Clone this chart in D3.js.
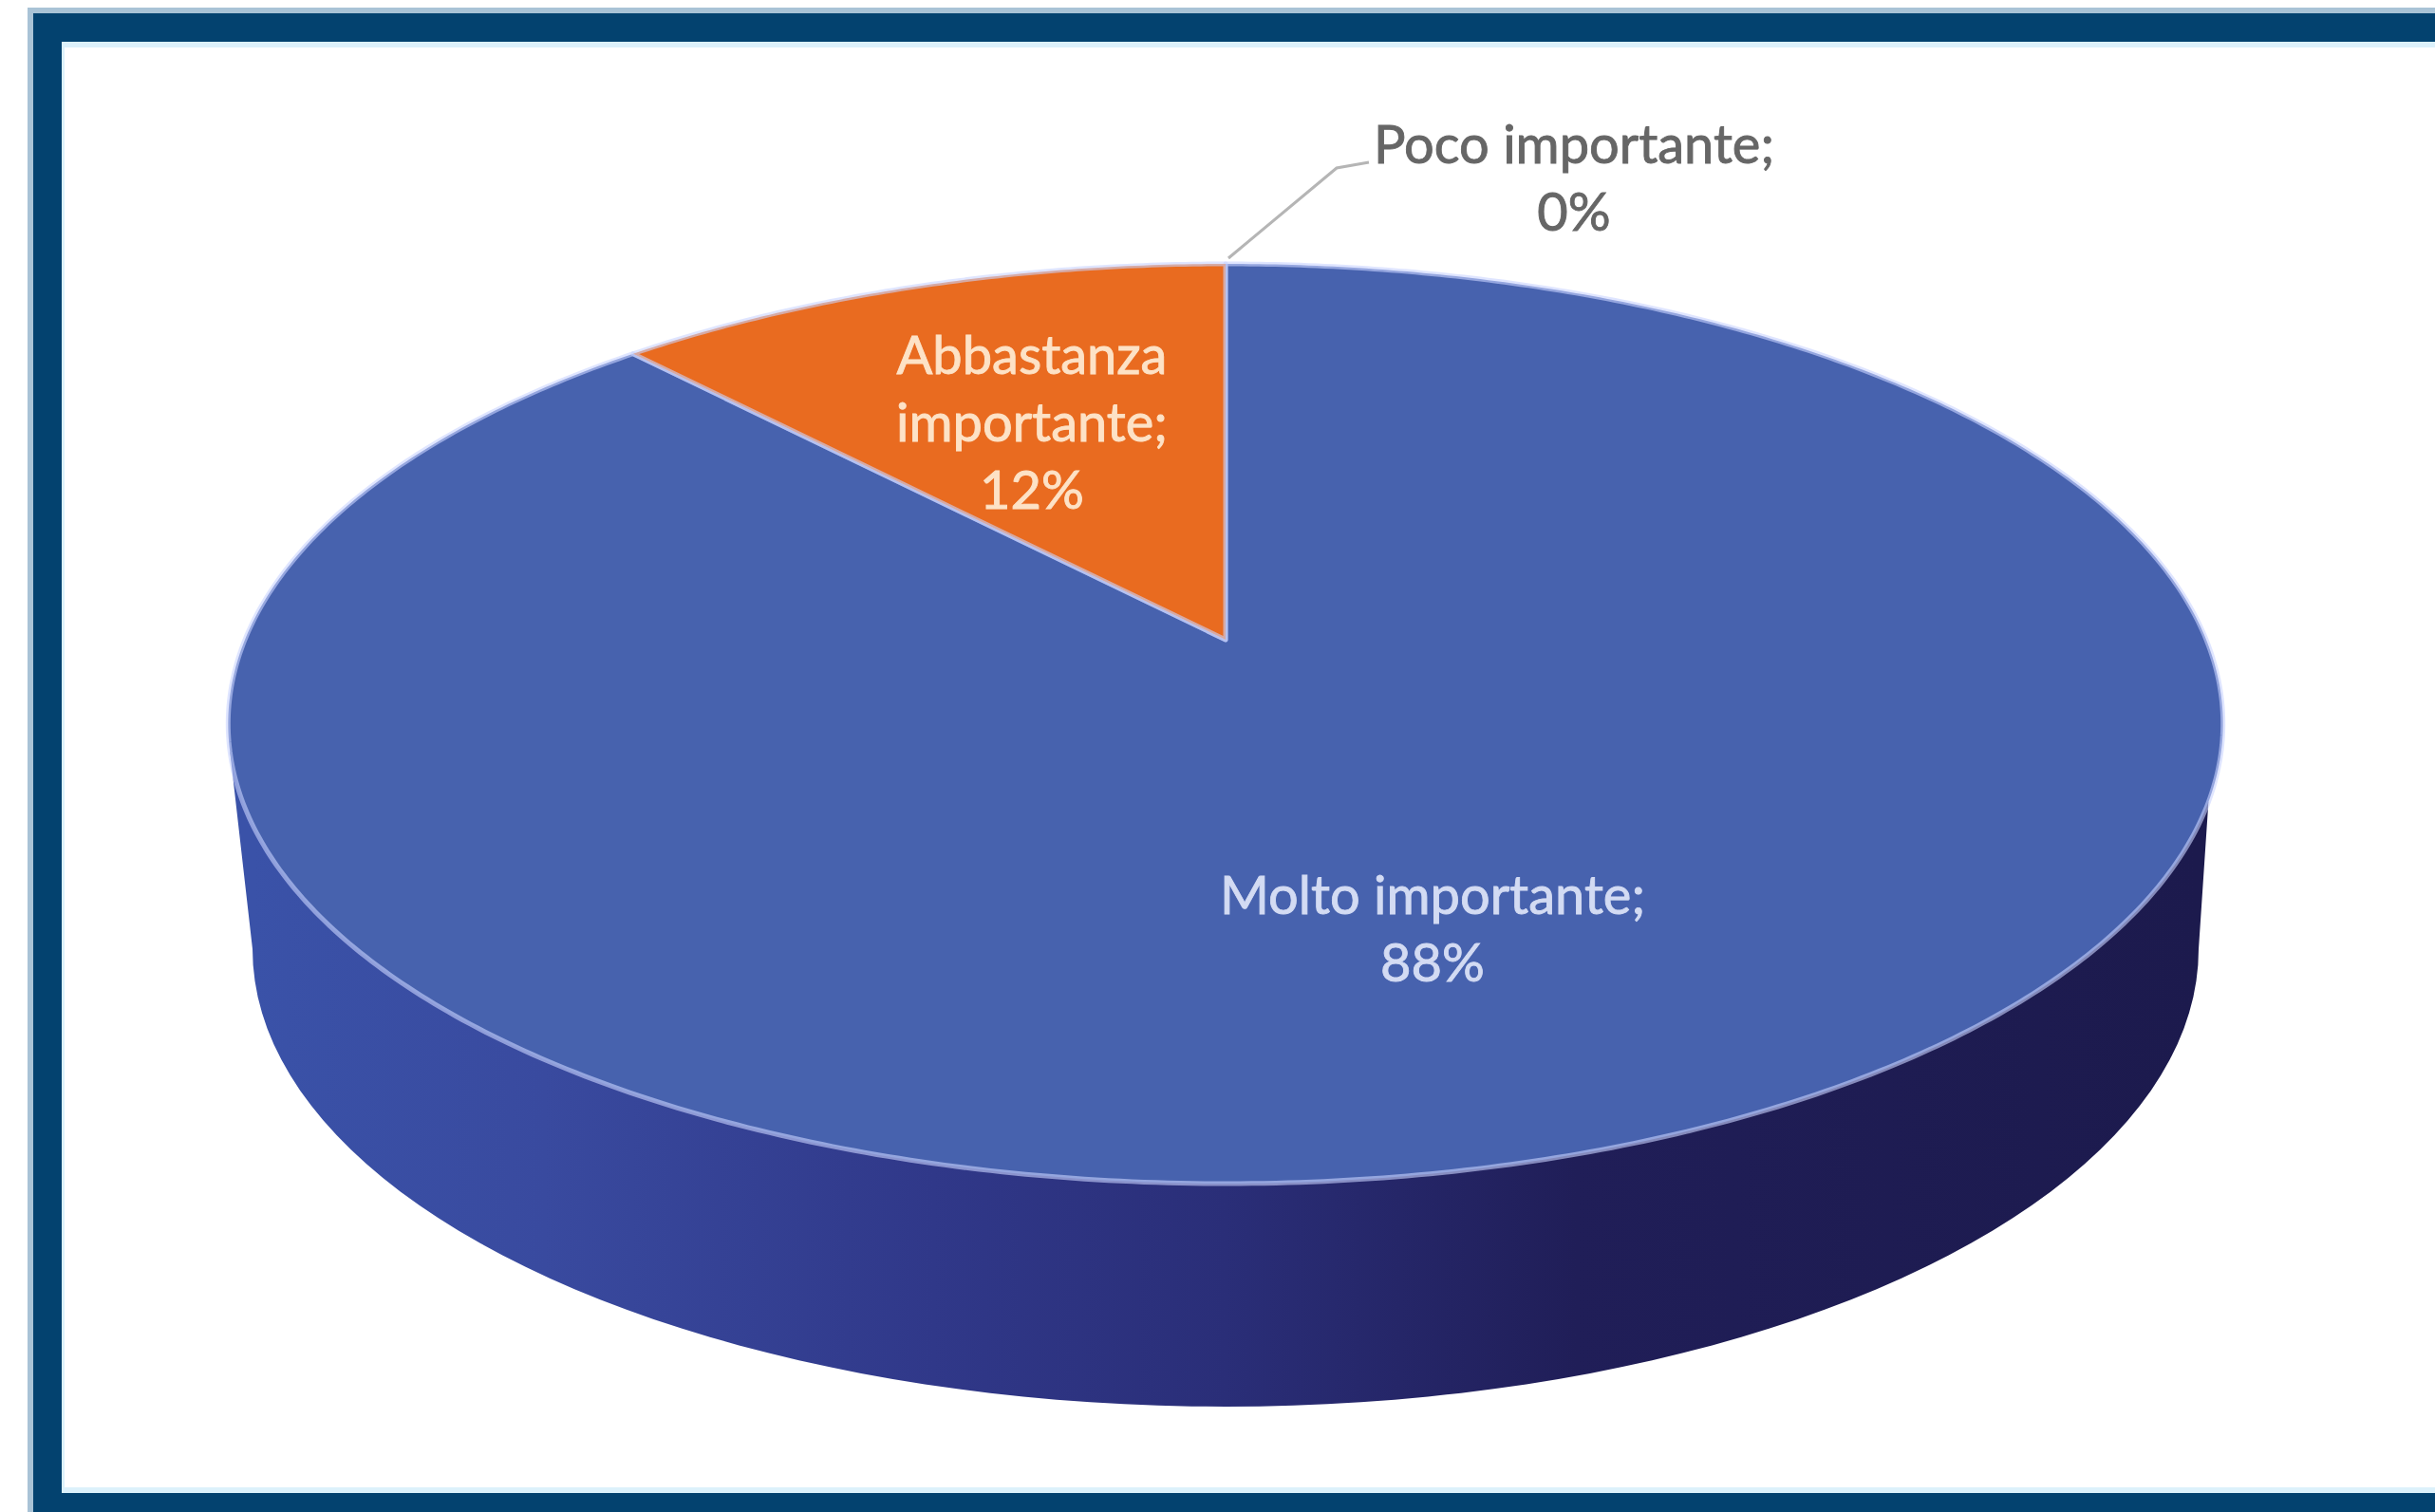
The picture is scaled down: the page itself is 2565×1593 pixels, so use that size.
<!DOCTYPE html>
<html lang="it">
<head>
<meta charset="utf-8">
<title>Importanza</title>
<script src="https://cdn.jsdelivr.net/npm/d3@7"></script>
<style>
  html, body { margin: 0; padding: 0; background: #fff; overflow: hidden; }
  svg { display: block; }
  text { font-family: Lato, "Open Sans", sans-serif; text-anchor: middle; }
</style>
</head>
<body>
<svg id="chart" width="2565" height="1593"></svg>
<script>
// Chart data
const categories = ["Molto importante", "Abbastanza importante", "Poco importante"];
const shares = [88, 12, 0];
const sliceColors = ["#4762ae", "#e96b20", "#a5a5a5"];
const labelColors = ["#d3dbf3", "#fde2c6", "#666666"];
const labelLines = [
  ["Molto importante;", "88%"],
  ["Abbastanza", "importante;", "12%"],
  ["Poco importante;", "0%"]
];

// Layout of the tilted disc
const W = 2565, H = 1593;
const cx = 1291, hubY = 674, topY = 278, frontY = 1247;
const halfWidth = 1033;
const floor = { rx: 1025, ry: 482, cy: 1000 };
const lineGap = 71, fontSize = 56;
const labelAnchors = [[1509, 963], [1087, 394], [1658, 172]];

const svg = d3.select("#chart");

// Frame: open on the right, as a cropped panel
const frame = svg.append("g");
frame.append("rect").attr("x", 29).attr("y", 8).attr("width", W).attr("height", H)
  .attr("fill", "#a9c3d6");
frame.append("rect").attr("x", 35).attr("y", 14).attr("width", W).attr("height", H)
  .attr("fill", "#03426f");
frame.append("rect").attr("x", 65).attr("y", 44).attr("width", W).attr("height", 1529)
  .attr("fill", "#dcf1fb");
frame.append("rect").attr("x", 68).attr("y", 50).attr("width", W).attr("height", 1517)
  .attr("fill", "#ffffff");

// Perspective projection of a pie angle (clockwise from 12 o'clock) onto the page
const far = hubY - topY, near = frontY - hubY;
const p = (near - far) / (near + far);
const depth = near * (1 - p);
function project(angle, radius = 1) {
  const X = radius * Math.sin(angle), Y = -radius * Math.cos(angle);
  const w = 1 - p * Y;
  return [cx + halfWidth * X / w, hubY + depth * Y / w];
}

const line = d3.line();
const pieLayout = d3.pie().sort(null).value(d => d)(shares);

// Side wall: floor ellipse joined to the rim of the top face
const defs = svg.append("defs");
const wallGrad = defs.append("linearGradient").attr("id", "wallShade")
  .attr("gradientUnits", "userSpaceOnUse")
  .attr("x1", cx - floor.rx).attr("x2", cx + floor.rx).attr("y1", 0).attr("y2", 0);
[[0, "#3a52a8"], [0.15, "#394a9f"], [0.35, "#303889"], [0.5, "#2a2e78"], [0.68, "#201e58"], [1, "#1c1a4d"]]
  .forEach(([o, c]) => wallGrad.append("stop").attr("offset", o).attr("stop-color", c));

const rimLeft = 104 * Math.PI / 180, rimRight = 110 * Math.PI / 180;
const floorArc = d3.range(0, 181, 2).map(deg => {
  const t = deg * Math.PI / 180;
  return [cx - floor.rx * Math.cos(t), floor.cy + floor.ry * Math.sin(t)];
});
const wallPoints = [project(-rimLeft), ...floorArc, project(rimRight)];
svg.append("path").attr("d", line(wallPoints) + "Z").attr("fill", "url(#wallShade)");

// Top face slices
function slicePath(d) {
  const n = Math.max(2, Math.ceil((d.endAngle - d.startAngle) / 0.01));
  const arc = d3.range(n + 1).map(i => project(d.startAngle + (d.endAngle - d.startAngle) * i / n));
  return line([project(0, 0), ...arc]) + "Z";
}
svg.append("g").selectAll("path")
  .data(pieLayout.filter(d => d.value > 0))
  .join("path")
  .attr("d", slicePath)
  .attr("fill", d => sliceColors[d.index])
  .attr("stroke", "#c9d3ff")
  .attr("stroke-opacity", 0.6)
  .attr("stroke-width", 5)
  .attr("stroke-linejoin", "round");

// Leader for the zero-width slice
const zeroSlice = pieLayout[2];
const leaderStart = project(zeroSlice.startAngle);
svg.append("path")
  .attr("d", line([[leaderStart[0] + 3, leaderStart[1] - 6], [1408, 177], [1442, 171]]))
  .attr("fill", "none").attr("stroke", "#b5b5b5").attr("stroke-width", 3);

// Data labels
const labels = svg.append("g").selectAll("text")
  .data(categories)
  .join("text")
  .attr("font-size", fontSize)
  .attr("fill", (d, i) => labelColors[i])
  .attr("stroke", (d, i) => labelColors[i])
  .attr("stroke-width", 0.9);
labels.each(function (d, i) {
  d3.select(this).selectAll("tspan")
    .data(labelLines[i])
    .join("tspan")
    .attr("x", labelAnchors[i][0])
    .attr("y", (t, j) => labelAnchors[i][1] + j * lineGap)
    .text(t => t);
});
</script>
</body>
</html>
